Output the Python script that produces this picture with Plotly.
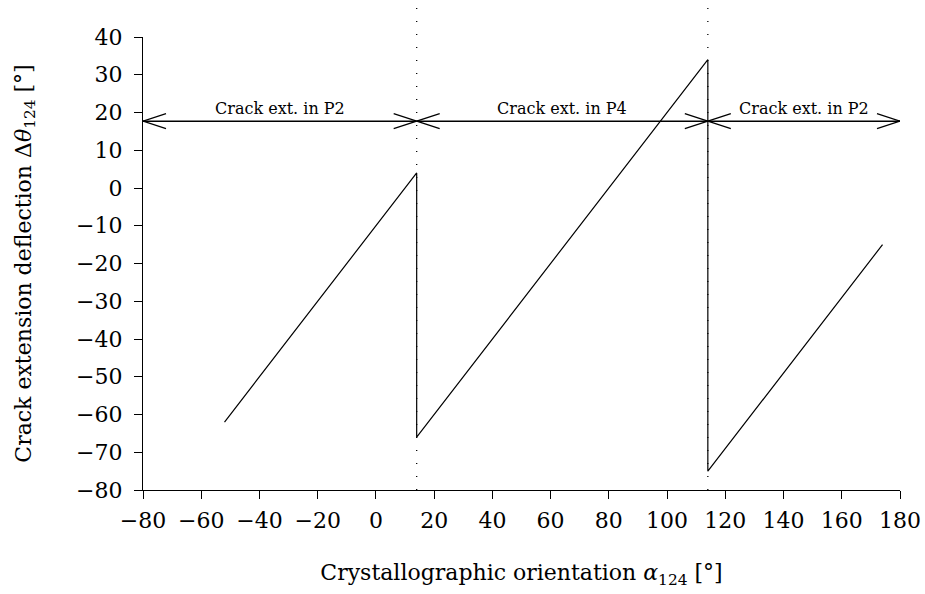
import plotly.graph_objects as go

# Crack extension deflection over the crystallographic orientation:
# three linear branches separated by jumps at the phase transitions.
alpha = [-52, 14, 14, 114, 114, 174]
dtheta = [-62, 4, -66, 34, -75, -15]

# Orientations at which the extension switches plane
transitions = [14, 114]

# Horizontal region arrows
region_bounds = [-80, 14, 114, 180]
region_labels = ["Crack ext. in P2", "Crack ext. in P4", "Crack ext. in P2"]
arrow_level = 17.7

x_ticks = list(range(-80, 181, 20))
y_ticks = list(range(-80, 41, 10))


def tick_text(v):
    return ("\u2212" + str(-v)) if v < 0 else str(v)


W, H = 925, 594
M = dict(l=143, r=25, t=37, b=104)
X_RANGE = [-80, 180]
Y_RANGE = [-80, 40]
plot_w = W - M["l"] - M["r"]
plot_h = H - M["t"] - M["b"]
px_x = (X_RANGE[1] - X_RANGE[0]) / plot_w   # data units per pixel
px_y = (Y_RANGE[1] - Y_RANGE[0]) / plot_h

FONT = "DejaVu Serif"

fig = go.Figure()
fig.add_trace(go.Scatter(
    x=alpha, y=dtheta, mode="lines",
    line=dict(color="black", width=1.2),
    showlegend=False, hoverinfo="skip",
))

shapes = []
# dotted transition markers
for xt in transitions:
    shapes.append(dict(
        type="line", xref="x", yref="paper", x0=xt, x1=xt, y0=0, y1=1.065,
        line=dict(color="black", width=1.3, dash="1px,12px"),
    ))

# double-headed arrows with open chevron heads
head_dx = 23 * px_x
head_dy = 7.5 * px_y
for i, label in enumerate(region_labels):
    a, b = region_bounds[i], region_bounds[i + 1]
    shapes.append(dict(
        type="line", xref="x", yref="y", x0=a, x1=b,
        y0=arrow_level, y1=arrow_level,
        line=dict(color="black", width=1.5),
    ))
    for tip, back in ((a, a + head_dx), (b, b - head_dx)):
        for s in (1, -1):
            shapes.append(dict(
                type="line", xref="x", yref="y", x0=tip, x1=back,
                y0=arrow_level, y1=arrow_level + s * head_dy,
                line=dict(color="black", width=1.3),
            ))
    fig.add_annotation(
        x=(a + b) / 2, y=arrow_level, xref="x", yref="y",
        text=label, showarrow=False, yanchor="bottom", yshift=1,
        font=dict(family=FONT, size=16, color="black"),
    )

axis_common = dict(
    showgrid=False, zeroline=False, showline=True, linecolor="black",
    linewidth=1.2, ticks="outside", ticklen=8, tickwidth=1.2,
    tickcolor="black", tickfont=dict(family=FONT, size=22, color="black"),
    mirror=False, automargin=False,
)

fig.update_layout(
    width=W, height=H, margin=M,
    paper_bgcolor="white", plot_bgcolor="white",
    shapes=shapes,
    xaxis=dict(
        range=X_RANGE, tickmode="array", tickvals=x_ticks,
        ticktext=[tick_text(v) for v in x_ticks],
        ticklabelstandoff=2,
        title=dict(text="Crystallographic orientation <i>\u03b1</i><sub>124</sub> [\u00b0]",
                   font=dict(family=FONT, size=22, color="black"), standoff=33),
        **axis_common,
    ),
    yaxis=dict(
        range=Y_RANGE, tickmode="array", tickvals=y_ticks,
        ticktext=[tick_text(v) for v in y_ticks],
        ticklabelstandoff=7,
        title=dict(text="Crack extension deflection \u0394<i>\u03b8</i><sub>124</sub> [\u00b0]",
                   font=dict(family=FONT, size=22, color="black"), standoff=38),
        **axis_common,
    ),
)

fig.write_html("out.html")
